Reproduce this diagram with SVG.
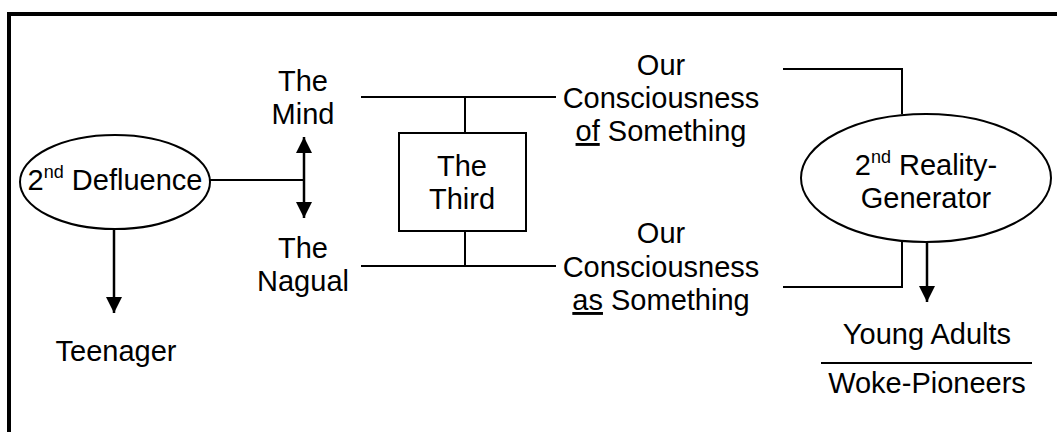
<svg xmlns="http://www.w3.org/2000/svg" width="1057" height="432" viewBox="0 0 1057 432">
<defs>
<style>
text{font-family:"Liberation Sans",Arial,sans-serif;font-size:29px;fill:#000;text-anchor:middle}
.sup{font-size:18px}
.u{text-decoration:underline}
.ln{fill:none;stroke:#000;stroke-width:2}
.ar{fill:none;stroke:#000;stroke-width:2.5}
.sh{fill:#fff;stroke:#000;stroke-width:2}
</style>
<marker id="ah" markerUnits="userSpaceOnUse" markerWidth="16" markerHeight="16" viewBox="0 0 15 15" refX="15" refY="7.5" orient="auto">
<path d="M0,0 L15,7.5 L0,15 z" fill="#000"/>
</marker>
</defs>
<rect x="0" y="0" width="1057" height="432" fill="#fff"/>
<path d="M9,432 V14 H1057" fill="none" stroke="#000" stroke-width="4"/>
<g id="connectors">
<path class="ln" d="M210,180 H304"/>
<path class="ar" d="M304,180 V137" marker-end="url(#ah)"/>
<path class="ar" d="M304,180 V218" marker-end="url(#ah)"/>
<path class="ar" d="M114,230 V313" marker-end="url(#ah)"/>
<path class="ln" d="M361,97 H556"/>
<path class="ln" d="M465,97 V133"/>
<path class="ln" d="M361,266 H556"/>
<path class="ln" d="M465,231 V266"/>
<path class="ln" d="M783,69 H902 V114"/>
<path class="ln" d="M783,287 H902 V242"/>
<path class="ar" d="M927,242 V302" marker-end="url(#ah)"/>
<path class="ln" d="M821,363 H1032"/>
</g>
<g id="defluence">
<ellipse class="sh" cx="115" cy="182" rx="95" ry="47"/>
<text x="115" y="190">2<tspan class="sup" dy="-12">nd</tspan><tspan dy="12"> Defluence</tspan></text>
</g>
<g id="teenager"><text x="116" y="361">Teenager</text></g>
<g id="mind"><text x="303" y="91">The</text><text x="303" y="124">Mind</text></g>
<g id="nagual"><text x="303" y="258">The</text><text x="303" y="291">Nagual</text></g>
<g id="third">
<rect class="sh" x="399" y="133" width="127" height="98"/>
<text x="462" y="176">The</text><text x="462" y="209">Third</text>
</g>
<g id="cons-of">
<text x="661" y="75">Our</text>
<text x="661" y="108">Consciousness</text>
<text x="661" y="141"><tspan class="u">of</tspan> Something</text>
</g>
<g id="cons-as">
<text x="661" y="243">Our</text>
<text x="661" y="277">Consciousness</text>
<text x="661" y="310"><tspan class="u">as</tspan> Something</text>
</g>
<g id="reality">
<ellipse class="sh" cx="926" cy="178" rx="125" ry="64"/>
<text x="926" y="175">2<tspan class="sup" dy="-12">nd</tspan><tspan dy="12"> Reality-</tspan></text>
<text x="926" y="208">Generator</text>
</g>
<g id="young"><text x="927" y="344">Young Adults</text></g>
<g id="woke"><text x="927" y="393">Woke-Pioneers</text></g>
</svg>
